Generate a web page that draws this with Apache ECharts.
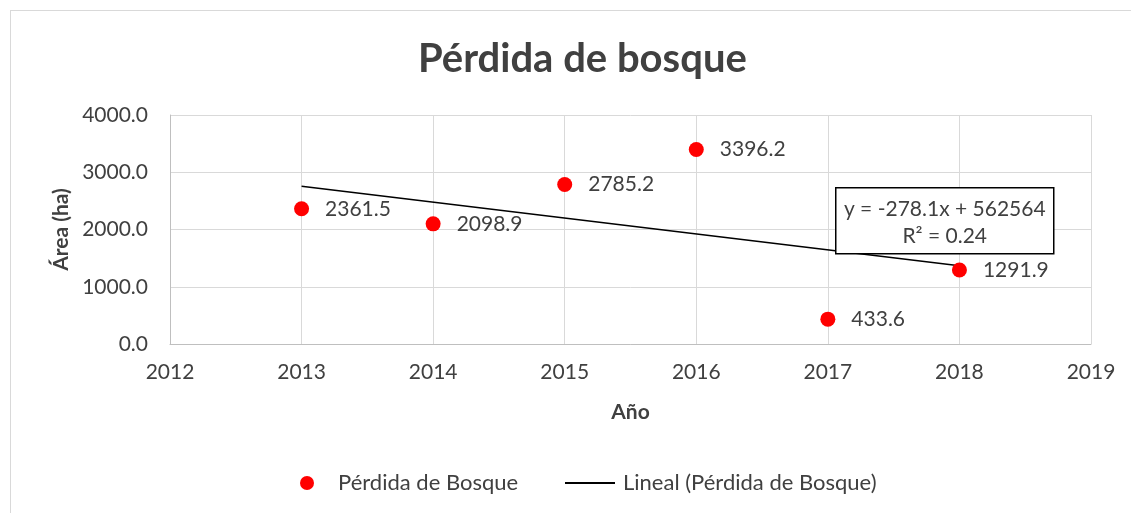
<!DOCTYPE html>
<html><head><meta charset="utf-8">
<script src="https://cdn.jsdelivr.net/npm/echarts@6/dist/echarts.min.js"></script>
<style>html,body{margin:0;padding:0;background:#fff;}#c{width:1131px;height:513px;}
#frame{position:absolute;left:10px;top:10px;width:1200px;height:600px;border:1px solid #d9d9d9;pointer-events:none;}</style>
</head><body><div id="c"></div><div id="frame"></div>
<script>
const years = [2013, 2014, 2015, 2016, 2017, 2018];
const values = [2361.5, 2098.9, 2785.2, 3396.2, 433.6, 1291.9];
const trendYears = [2013, 2018];
const trendValues = [2756.4, 1366.0];
const xTicks = [2012, 2013, 2014, 2015, 2016, 2017, 2018, 2019];
const yTicks = [0, 1000, 2000, 3000, 4000];
const titleText = 'Pérdida de bosque';
const seriesName = 'Pérdida de Bosque';
const trendName = 'Lineal (Pérdida de Bosque)';
const eqLines = ['y = -278.1x + 562564', 'R² = 0.24'];

const FONT = 'Lato';
const FS = 21;
const TXT = '#404040';
const chart = echarts.init(document.getElementById('c'));
chart.setOption({
  animation: false,
  backgroundColor: '#fff',
  title: { text: titleText, left: 413, top: 34,
    textStyle: { fontFamily: FONT, fontSize: 40, fontWeight: 'bold', color: TXT } },
  grid: { left: 170, right: 40, top: 115, bottom: 169 },
  legend: [
    {
      top: 467, left: 295, itemWidth: 46, itemHeight: 14,
      textStyle: { fontFamily: FONT, fontSize: 22, color: TXT, padding: [0, 0, 0, 3] },
      data: [ { name: seriesName, icon: 'circle' } ]
    },
    {
      top: 467, left: 559, itemWidth: 50, itemHeight: 14,
      textStyle: { fontFamily: FONT, fontSize: 22, color: TXT, padding: [0, 0, 0, 3] },
      data: [ { name: trendName, itemStyle: { opacity: 0 } } ]
    }
  ],
  xAxis: {
    type: 'value', min: xTicks[0], max: xTicks[xTicks.length - 1], interval: 1,
    name: 'Año', nameLocation: 'middle', nameGap: 58,
    nameTextStyle: { fontFamily: FONT, fontSize: FS, fontWeight: 'bold', color: TXT },
    axisLine: { show: true, lineStyle: { color: '#bfbfbf', width: 1 } },
    axisTick: { show: false },
    axisLabel: { fontFamily: FONT, fontSize: FS, color: TXT, margin: 18, formatter: v => String(v) },
    splitLine: { show: true, lineStyle: { color: '#d9d9d9', width: 1 } }
  },
  yAxis: {
    type: 'value', min: yTicks[0], max: yTicks[yTicks.length - 1], interval: 1000,
    name: 'Área (ha)', nameLocation: 'middle', nameGap: 96, nameRotate: 90,
    nameTextStyle: { fontFamily: FONT, fontSize: FS, fontWeight: 'bold', color: TXT },
    axisLine: { show: true, lineStyle: { color: '#bfbfbf', width: 1 } },
    axisTick: { show: false },
    axisLabel: { fontFamily: FONT, fontSize: FS, color: TXT, margin: 22, formatter: v => v.toFixed(1) },
    splitLine: { show: true, lineStyle: { color: '#d9d9d9', width: 1 } }
  },
  series: [
    {
      name: trendName, type: 'line', z: 2,
      data: trendYears.map((y, i) => [y, trendValues[i]]),
      symbol: 'none', lineStyle: { color: '#000', width: 1.5 }, itemStyle: { color: '#000' }
    },
    {
      name: seriesName, type: 'scatter', z: 3,
      data: years.map((y, i) => [y, values[i]]),
      symbolSize: 15, itemStyle: { color: '#ff0000', opacity: 1 },
      label: { show: true, position: 'right', distance: 16, fontFamily: FONT, fontSize: FS, color: TXT,
        formatter: p => p.value[1].toFixed(1) }
    }
  ],
  graphic: [
    { type: 'group', left: 835, top: 187, z: 100, zlevel: 1, children: [
      { type: 'rect', z: 100, shape: { x: 0, y: 0, width: 218, height: 66 },
        style: { fill: '#fff', stroke: '#000', lineWidth: 1.5 } },
      { type: 'text', z: 101, x: 109, y: 21, style: { text: eqLines[0], fontFamily: FONT, fontSize: FS, fill: TXT, align: 'center', verticalAlign: 'middle' } },
      { type: 'text', z: 101, x: 109, y: 48, style: { text: eqLines[1], fontFamily: FONT, fontSize: FS, fill: TXT, align: 'center', verticalAlign: 'middle' } }
    ]}
  ]
});
</script></body></html>
